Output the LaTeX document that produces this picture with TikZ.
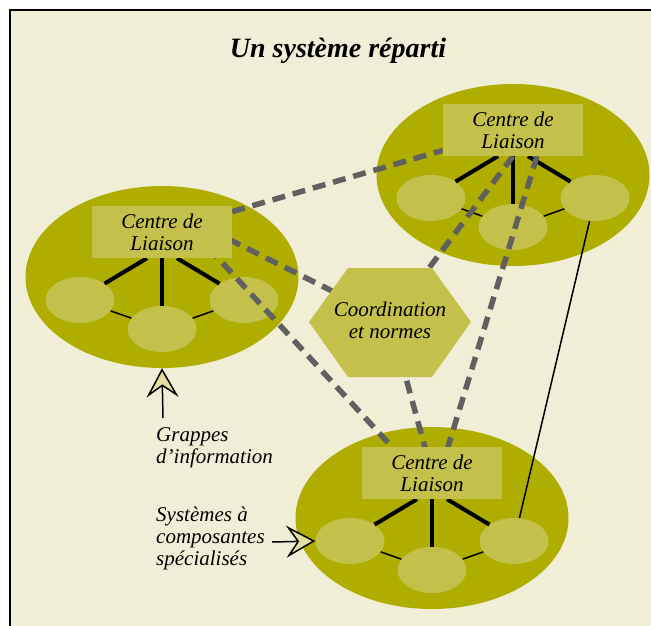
\documentclass[tikz,border=0pt]{standalone}
\usepackage{fontspec}
\setmainfont{Liberation Serif}
\usepackage{tikz}
\usetikzlibrary{positioning,arrows.meta,shapes.geometric}
\definecolor{paper}{RGB}{240,238,214}
\definecolor{olive}{RGB}{174,173,0}
\definecolor{podfill}{RGB}{196,192,76}
\definecolor{linkgray}{RGB}{96,96,96}
\definecolor{tipfill}{RGB}{226,222,160}
\pgfdeclarelayer{sheet}
\pgfdeclarelayer{back}
\pgfdeclarelayer{links}
\pgfsetlayers{sheet,back,links,main}

\begin{document}
\begin{tikzpicture}[x=1pt, y=-1pt,
		cluster/.style={ellipse, fill=olive, minimum width=273pt, minimum height=182pt, inner sep=0pt},
		pod/.style={ellipse, fill=podfill, minimum width=69pt, minimum height=46pt, inner sep=0pt},
		hub/.style={fill=podfill, minimum width=140pt, minimum height=52pt, inner sep=0pt,
					align=center, font=\fontsize{21}{22}\selectfont\itshape},
		hexa/.style={minimum width=162pt, minimum height=109pt, inner sep=0pt,
					align=center, font=\fontsize{21}{22}\selectfont\itshape},
		spoke/.style={line width=4pt},
		wire/.style={line width=1.5pt},
		link/.style={line width=5.5pt, linkgray, dash pattern=on 13pt off 8pt},
		label/.style={align=left, inner sep=0pt, font=\fontsize{21}{22}\selectfont\itshape},
		pointer/.style={-{Stealth[length=29pt, width=32pt, inset=11pt, fill=tipfill]}, line width=1.5pt}
	]
		\useasboundingbox (0,0) rectangle (651,625);
		\begin{pgfonlayer}{sheet}
			\draw[line width=2pt, fill=paper] (10,10) rectangle (700,700);
		\end{pgfonlayer}

		\node[anchor=base, font=\fontsize{28}{30}\selectfont\bfseries\itshape] (title) at (338,57) {Un système réparti};

		% les trois grappes
		\foreach \n/\cx/\cy in {l/162/277, t/513/175, b/432/518} {
			\node[hub] (hub-\n) at (\cx,\cy-45) {Centre de\\Liaison};
			\begin{pgfonlayer}{back}
				\node[cluster] (cl-\n) at (\cx,\cy) {};
				\node[pod] (pod-\n1) at (\cx-82,\cy+23) {};
				\node[pod] (pod-\n2) at (\cx,\cy+52) {};
				\node[pod] (pod-\n3) at (\cx+82,\cy+23) {};
				\draw[wire] (pod-\n1) -- (pod-\n2) -- (pod-\n3);
				\draw[spoke] ([xshift=-15pt]hub-\n.south) -- (pod-\n1.north east);
				\draw[spoke] (hub-\n.south) -- (pod-\n2.north);
				\draw[spoke] ([xshift=15pt]hub-\n.south) -- (pod-\n3.north west);
			\end{pgfonlayer}
		}
		\begin{pgfonlayer}{back}
			\draw[wire] (pod-t3) -- (pod-b3);
		\end{pgfonlayer}

		% hexagone
		\fill[podfill] (309,322) -- (348,268) -- (432,268) -- (471,322) -- (432,377) -- (348,377) -- cycle;
		\node[hexa] (coord) at (390,320) {Coordination\\et normes};

		% liaisons
		\begin{pgfonlayer}{links}
			\draw[link] (hub-l) -- (hub-t);
			\draw[link] ([xshift=10pt,yshift=-5pt]hub-l.north) -- (coord.center);
			\draw[link] ([xshift=18pt,yshift=-11pt]hub-l.north) -- ([xshift=-16pt]hub-b.center);
			\draw[link] (hub-t.south) -- (coord.center);
			\draw[link] ([xshift=24pt]hub-t.south) -- ([xshift=8pt]hub-b.center);
			\draw[link] (coord.center) -- (hub-b.center);
		\end{pgfonlayer}

		\node[label, anchor=west] (grappes) at (156,448) {Grappes\\d'information};
		\node[label, anchor=west] (systemes) at (156,538) {Systèmes à\\composantes\\spécialisés};
		\coordinate (gtail) at (163,418);
		\coordinate (stail) at (272,542);
		\draw[pointer] (gtail) -- (cl-l.south);
		\draw[pointer] (stail) -- (pod-b1.west);
	\end{tikzpicture}
\end{document}
